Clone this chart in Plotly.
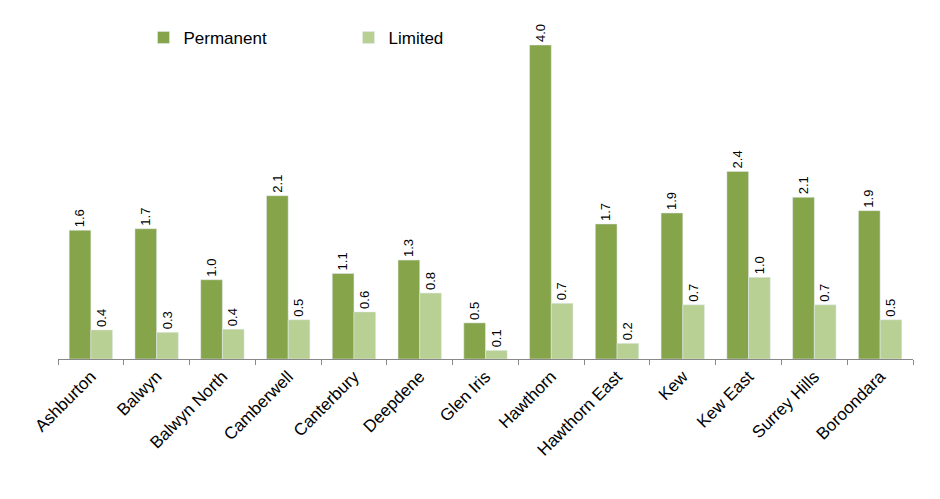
import plotly.graph_objects as go

suburbs = ["Ashburton","Balwyn","Balwyn North","Camberwell","Canterbury","Deepdene","Glen Iris",
           "Hawthorn","Hawthorn East","Kew","Kew East","Surrey Hills","Boroondara"]
permanent = [1.64,1.66,1.01,2.08,1.09,1.26,0.46,4.0,1.72,1.86,2.39,2.06,1.89]
limited = [0.37,0.34,0.38,0.50,0.60,0.84,0.11,0.71,0.20,0.69,1.04,0.69,0.50]

fig = go.Figure()
for name, vals, col in [("Permanent", permanent, "#86A44A"), ("Limited", limited, "#B8D093")]:
    fig.add_bar(x=suburbs, y=vals, name=name, marker_color=col,
                text=[f"{v:.1f} " for v in vals], textposition="outside", textangle=-90,
                textfont=dict(size=17, color="black"), cliponaxis=False)

fig.update_layout(
    width=940, height=499, plot_bgcolor="white", paper_bgcolor="white",
    margin=dict(l=50, r=35, t=30, b=148),
    font=dict(family="Liberation Sans, Arial", size=17, color="black"),
    bargap=0.34, bargroupgap=0,
    legend=dict(orientation="h", x=0.1, y=1.08, xanchor="left", yanchor="top",
                font=dict(size=17), entrywidth=160, bgcolor="rgba(0,0,0,0)"),
    xaxis=dict(tickangle=-45, showline=True, linecolor="#888", ticks="outside",
               tickcolor="#888", ticklen=5, tickson="boundaries"),
    yaxis=dict(visible=False, range=[0, 4.0]),
)
fig.write_html("out.html")
